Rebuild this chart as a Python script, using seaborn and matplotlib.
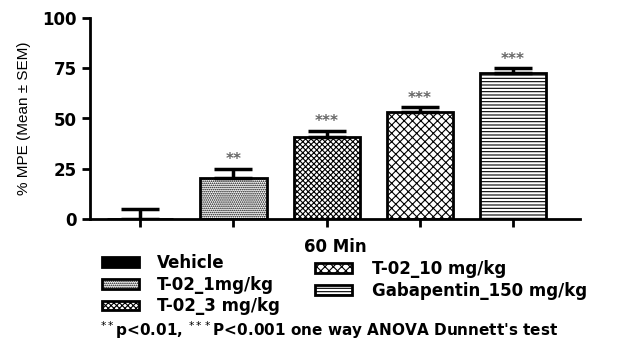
import numpy as np
import pandas as pd
import seaborn as sns
import matplotlib.pyplot as plt
import matplotlib.patches as mpatches

# data
groups = ["Vehicle", "T-02_1mg/kg", "T-02_3 mg/kg", "T-02_10 mg/kg", "Gabapentin_150 mg/kg"]
means = [0.0, 20.5, 41.0, 53.0, 72.5]
sems = [5.0, 4.5, 3.0, 2.5, 2.5]
stars = ["", "**", "***", "***", "***"]
hatches = ["", "........", "xxxxxx", "xxxx", "-----"]
fills = ["black", "white", "white", "white", "white"]

sns.set_style("ticks")
plt.rcParams['font.family'] = ['DejaVu Sans']
plt.rcParams['hatch.linewidth'] = 0.8
for k in ["text.color", "axes.labelcolor", "xtick.color", "ytick.color", "axes.edgecolor"]:
    plt.rcParams[k] = "black"

df = pd.DataFrame({"group": groups, "mean": means})

fig = plt.figure(figsize=(6.33, 3.46), dpi=100)
ax = fig.add_axes([90 / 633, 1 - 219 / 346, 490 / 633, 201 / 346])

sns.barplot(data=df, x="group", y="mean", order=groups, ax=ax, width=0.71,
            color="white", edgecolor="black", linewidth=2, errorbar=None)
for p, h, fc in zip(ax.patches, hatches, fills):
    p.set_hatch(h)
    p.set_facecolor(fc)

x = np.arange(len(groups))
ax.errorbar(x, means, yerr=[np.zeros(len(sems)), sems], fmt="none",
            ecolor="black", elinewidth=2.5, capsize=13.5, capthick=2.5)
for xi, m, s, st in zip(x, means, sems, stars):
    ax.text(xi, m + s + 0.8, st, ha="center", va="bottom", fontsize=11,
            color="#666666", fontweight="bold")

ax.set_xlim(-0.54, 4.72)
ax.set_ylim(0, 100)
ax.set_yticks([0, 25, 50, 75, 100])
ax.set_xticks(x)
ax.set_xticklabels([])
ax.set_ylabel("% MPE (Mean ± SEM)", fontsize=11, family=['Liberation Sans', 'DejaVu Sans'],
              labelpad=8)
ax.set_xlabel("60 Min", fontsize=12, fontweight="bold", labelpad=4)
for lab in ax.get_yticklabels():
    lab.set_fontweight("bold")
    lab.set_fontsize(12)
ax.tick_params(width=2, length=6, direction="out")
sns.despine(ax=ax)
for sp in ["left", "bottom"]:
    ax.spines[sp].set_linewidth(2)

handles = [mpatches.Patch(facecolor=fc, edgecolor="black", hatch=h, linewidth=2, label=g)
           for g, h, fc in zip(groups, hatches, fills)]
kw = dict(frameon=False, handlelength=2.2, handleheight=0.5,
          labelspacing=0.22, borderaxespad=0, borderpad=0,
          prop={"weight": "bold", "size": 12})
fig.legend(handles=handles[:3], loc="upper left", bbox_to_anchor=(102 / 633, 1 - 254 / 346),
           handletextpad=1.1, **kw)
fig.legend(handles=handles[3:], loc="upper left", bbox_to_anchor=(315 / 633, 1 - 260 / 346),
           handletextpad=1.25, **kw)

fig.text(100 / 633, 1 - 330 / 346,
         r"$^{**}$p<0.01, $^{***}$P<0.001 one way ANOVA Dunnett's test",
         fontsize=11, fontweight="bold", va="center")

fig.savefig("out.png", dpi=100)
